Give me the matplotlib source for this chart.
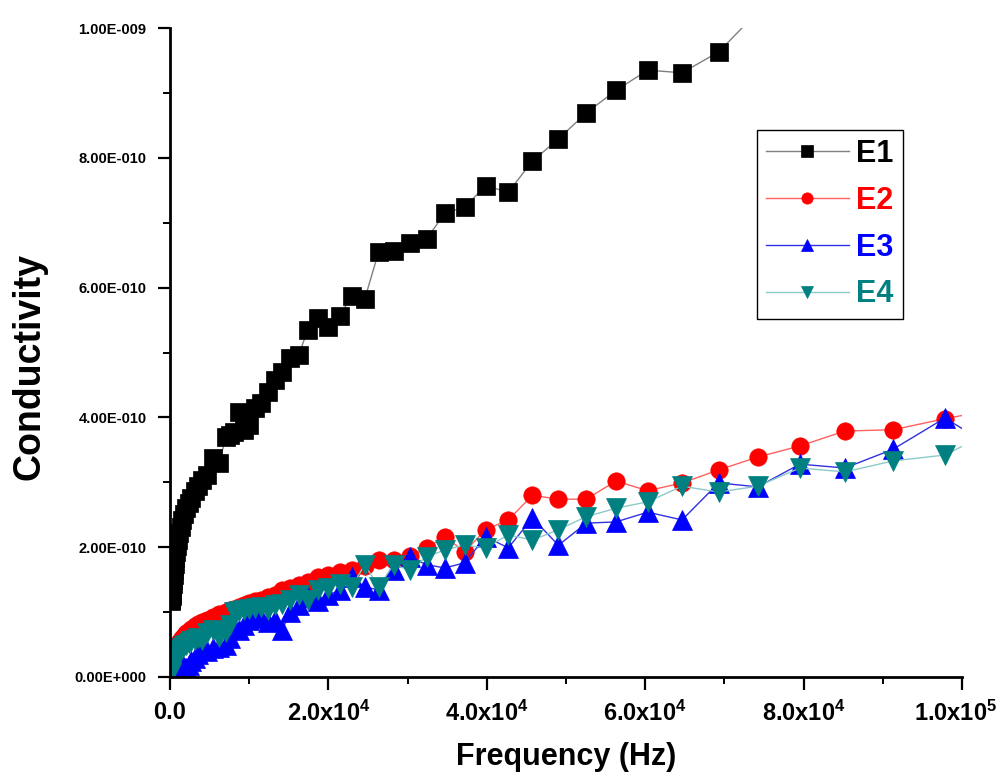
import numpy as np
import matplotlib
matplotlib.use("Agg")
import matplotlib.pyplot as plt
import matplotlib.transforms as mtransforms
from matplotlib import font_manager
from matplotlib.ticker import FixedLocator, FuncFormatter

# frequency sweep (Hz)
freq = [100, 120, 140, 160, 190, 220, 260, 300, 340, 390,
        450, 510, 590, 680, 780, 900, 1030, 1180, 1350, 1550,
        1780, 2050, 2350, 2700, 3100, 3560, 4080, 4690, 5380, 6180,
        7090, 7600, 8140, 8720, 9350, 10020, 10730, 11500, 12320, 13200,
        14150, 15160, 16240, 17400, 18650, 19980, 21410, 22940, 24580, 26340,
        28220, 30240, 32400, 34720, 37200, 39860, 42710, 45770, 49040, 52550,
        56310, 60330, 64650, 69270, 74220, 79530, 85220, 91310, 97840, 104840]

# conductivity, in units of 1e-10
e1 = [1.17, 1.19, 1.20, 1.22, 1.25, 1.28, 1.33, 1.37, 1.43, 1.49,
      1.57, 1.65, 1.74, 1.83, 1.93, 2.02, 2.11, 2.22, 2.31, 2.42,
      2.51, 2.60, 2.68, 2.76, 2.87, 2.94, 3.04, 3.11, 3.37, 3.30,
      3.70, 3.73, 3.78, 4.08, 3.81, 3.88, 4.14, 4.22, 4.39, 4.58,
      4.70, 4.92, 4.96, 5.35, 5.53, 5.39, 5.56, 5.87, 5.82, 6.55,
      6.56, 6.69, 6.75, 7.15, 7.24, 7.57, 7.47, 7.95, 8.29, 8.69,
      9.04, 9.35, 9.31, 9.63, 10.25, np.nan, np.nan, np.nan, np.nan, np.nan]
e2 = [0.08, 0.09, 0.11, 0.12, 0.14, 0.15, 0.18, 0.20, 0.23, 0.26,
      0.29, 0.32, 0.35, 0.39, 0.42, 0.46, 0.49, 0.54, 0.57, 0.60,
      0.63, 0.68, 0.71, 0.74, 0.79, 0.82, 0.85, 0.88, 0.92, 0.97,
      1.00, 1.03, 1.05, 1.08, 1.11, 1.14, 1.17, 1.19, 1.23, 1.26,
      1.34, 1.37, 1.42, 1.46, 1.54, 1.57, 1.62, 1.65, 1.71, 1.80,
      1.80, 1.86, 1.99, 2.16, 1.93, 2.27, 2.42, 2.80, 2.74, 2.74,
      3.02, 2.87, 2.99, 3.19, 3.39, 3.56, 3.79, 3.81, 3.98, 4.14]
e3 = [0.40, 0.45, 0.30, 0.20, 0.10, 0.08, 0.08, 0.09, 0.10, 0.10,
      0.11, 0.12, 0.12, 0.13, 0.13, 0.14, 0.14, 0.15, 0.15, 0.16,
      0.15, 0.14, 0.18, 0.24, 0.30, 0.36, 0.42, 0.40, 0.45, 0.46,
      0.50, 0.60, 0.77, 0.72, 0.80, 0.88, 0.96, 0.91, 0.85, 0.88,
      0.72, 1.00, 1.11, 1.23, 1.17, 1.26, 1.34, 1.54, 1.39, 1.34,
      1.65, 1.85, 1.73, 1.68, 1.76, 2.16, 1.99, 2.45, 2.03, 2.37,
      2.39, 2.54, 2.42, 2.99, 2.93, 3.28, 3.22, 3.51, 3.99, 3.47]
e4 = [0.06, 0.08, 0.10, 0.12, 0.14, 0.15, 0.17, 0.18, 0.20, 0.22,
      0.24, 0.26, 0.28, 0.30, 0.32, 0.35, 0.37, 0.40, 0.42, 0.45,
      0.48, 0.50, 0.52, 0.55, 0.57, 0.60, 0.57, 0.68, 0.72, 0.62,
      0.69, 0.80, 1.00, 1.02, 1.03, 1.05, 1.06, 1.08, 1.03, 1.11,
      1.12, 1.19, 1.26, 1.19, 1.34, 1.37, 1.43, 1.39, 1.73, 1.39,
      1.73, 1.65, 1.85, 1.96, 2.03, 1.99, 2.19, 2.11, 2.27, 2.47,
      2.60, 2.70, 2.94, 2.85, 2.94, 3.22, 3.16, 3.33, 3.42, 3.85]

xticks = [0, 2e4, 4e4, 6e4, 8e4, 1e5]
yticks = [0, 2e-10, 4e-10, 6e-10, 8e-10, 1e-9]

series = [
    ("E1", e1, "s", 12.5, "black", "#808080"),
    ("E2", e2, "o", 12.5, "#FF0000", "#FF6060"),
    ("E3", e3, "^", 14, "#0000FF", "#3030E0"),
    ("E4", e4, "v", 14, "#008080", "#8CCACA"),
]

available = {f.name for f in font_manager.fontManager.ttflist}
base_font = "Liberation Sans" if "Liberation Sans" in available else "DejaVu Sans"
narrow_font = "Liberation Sans Narrow" if "Liberation Sans Narrow" in available else base_font

plt.rcParams["font.family"] = [base_font, "DejaVu Sans"]
plt.rcParams["mathtext.fontset"] = "custom"
plt.rcParams["mathtext.rm"] = narrow_font + ":bold"
plt.rcParams["mathtext.it"] = narrow_font + ":bold"

fig = plt.figure(figsize=(10.03, 7.78), dpi=100)
ax = fig.add_axes([170 / 1003, 1 - 677 / 778, 792 / 1003, 649 / 778])

for name, vals, mk, ms, mcol, lcol in series:
    y = np.array(vals, dtype=float) * 1e-10
    ax.plot(freq, y, color=lcol, lw=1.0, marker=mk, markersize=ms,
            markerfacecolor=mcol, markeredgecolor=mcol, markeredgewidth=0.5,
            label=name)

ax.set_xlim(0, 1e5)
ax.set_ylim(0, 1e-9)

for side in ("top", "right"):
    ax.spines[side].set_visible(False)
for side in ("left", "bottom"):
    ax.spines[side].set_linewidth(2)

ax.xaxis.set_major_locator(FixedLocator(xticks))
ax.xaxis.set_minor_locator(FixedLocator([1e4, 3e4, 5e4, 7e4, 9e4]))
ax.yaxis.set_major_locator(FixedLocator(yticks))
ax.yaxis.set_minor_locator(FixedLocator([1e-10, 3e-10, 5e-10, 7e-10, 9e-10]))


def xfmt(v, pos):
    if v == 0:
        return "0.0"
    e = int(np.floor(np.log10(v)))
    return "%.1fx10$^{%d}$" % (v / 10 ** e, e)


def yfmt(v, pos):
    if v == 0:
        return "0.00E+000"
    e = int(np.floor(np.log10(abs(v)) + 1e-9))
    return "%.2fE%+04d" % (v / 10 ** e, e)


ax.xaxis.set_major_formatter(FuncFormatter(xfmt))
ax.yaxis.set_major_formatter(FuncFormatter(yfmt))

ax.tick_params(which="major", direction="out", length=9, width=1.6, pad=8)
ax.tick_params(which="minor", direction="out", length=5, width=1.4)
for lab in ax.get_yticklabels():
    lab.set_fontsize(10.5)
    lab.set_fontweight("bold")
xlabels = ax.get_xticklabels()
for lab in xlabels:
    lab.set_family([narrow_font, "DejaVu Sans"])
    lab.set_fontsize(17)
    lab.set_fontweight("bold")
# pull the last label in a little so it stays on the canvas
shift = mtransforms.ScaledTranslation(-6 / 100, 0, fig.dpi_scale_trans)
xlabels[-1].set_transform(xlabels[-1].get_transform() + shift)

ax.set_xlabel("Frequency (Hz)", fontsize=22, fontweight="bold", labelpad=12)
ax.set_ylabel("Conductivity", fontsize=27, fontweight="bold")
ax.yaxis.set_label_coords(-0.155, 0.478)

leg = ax.legend(loc="upper left", bbox_to_anchor=(0.741, 0.843),
                prop={"weight": "bold", "size": 22}, frameon=True,
                fancybox=False, edgecolor="black", framealpha=1,
                handlelength=2.7, handletextpad=0.25, labelspacing=0.55,
                borderpad=0.3, borderaxespad=0, markerscale=0.65)
leg.get_frame().set_linewidth(1.0)
for txt, s in zip(leg.get_texts(), series):
    txt.set_color(s[4])

fig.savefig("out.png", dpi=100, facecolor="white")
